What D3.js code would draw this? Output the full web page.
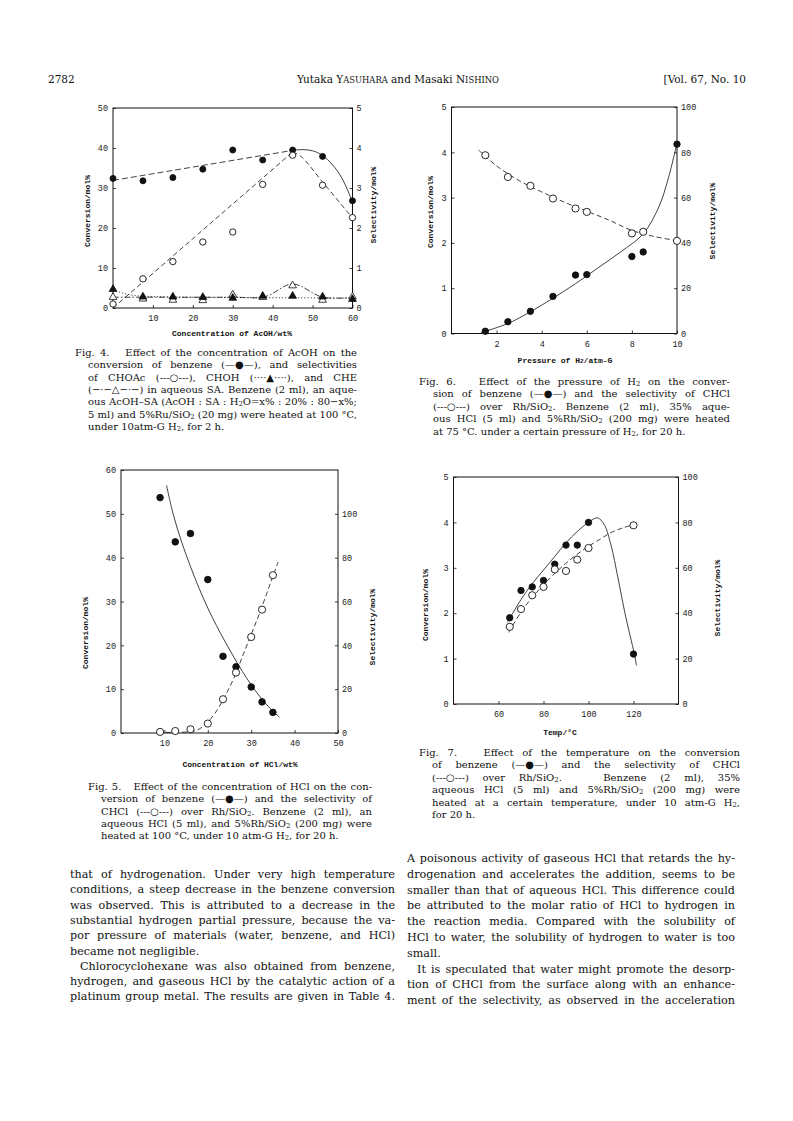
<!DOCTYPE html>
<html>
<head>
<meta charset="utf-8">
<script src="https://cdn.jsdelivr.net/npm/d3@7"></script>
<style>
body { margin: 0; background: #fff; }
</style>
</head>
<body>
<div id="page"></div>
<script>
var w = 793;
var h = 1121;

// Fig. 4 - AcOH concentration
var fig4Conc = [0, 7.5, 15, 22.5, 30, 37.5, 45, 52.5, 60];
var fig4Conversion = [32.4, 31.8, 32.6, 34.7, 39.5, 37.0, 39.5, 37.9, 26.8];
var fig4CHOAc = [0.1, 0.73, 1.16, 1.65, 1.9, 3.09, 3.82, 3.07, 2.26];
var fig4CHOH = [0.47, 0.28, 0.28, 0.27, 0.25, 0.30, 0.30, 0.28, 0.22];
var fig4CHE = [0.27, 0.23, 0.20, 0.19, 0.33, 0.27, 0.56, 0.20, 0.28];
var fig4ConvTrend = [[0, 31.9], [45, 39.4]];
var fig4ConvFall = [[45, 39.4], [47.5, 39.6], [50, 39.3], [52.5, 38.1], [55, 35.8], [57.5, 32.2], [60, 26.5]];
var fig4CHOAcRise = [[0, 0], [45, 3.9]];
var fig4CHOAcFall = [[45, 3.9], [47, 3.8], [52.5, 3.15], [60, 2.25]];
var fig4CHOHTrend = [[0, 0.45], [4, 0.32], [8, 0.28], [30, 0.26], [60, 0.25]];
var fig4CHETrend = [[0, 0.27], [30, 0.27], [38, 0.28], [45, 0.6], [52.5, 0.27], [60, 0.26]];

// Fig. 6 - H2 pressure
var fig6Press = [1.5, 2.5, 3.5, 4.5, 5.5, 6, 8, 8.5, 10];
var fig6Conversion = [0.05, 0.26, 0.49, 0.82, 1.29, 1.3, 1.7, 1.8, 4.18];
var fig6Select = [78.7, 69.1, 65.2, 59.6, 55.2, 53.7, 44.2, 44.9, 40.9];
var fig6ConvTrend = [[1.3, 0.02], [2.5, 0.22], [3.5, 0.48], [4.5, 0.78], [5.5, 1.1], [6.5, 1.45], [7.5, 1.8], [8.5, 2.2], [9.2, 2.8], [9.6, 3.4], [10, 4.2]];
var fig6SelTrend = [[1.2, 81], [2, 74], [3, 67.5], [4, 62.5], [5, 58], [6, 54], [7, 50], [8, 45.5], [9, 42.8], [10, 41]];

// Fig. 5 - HCl concentration
var fig5Conc = [9, 12.5, 16, 20, 23.5, 26.5, 30, 32.5, 35];
var fig5Conversion = [53.7, 43.6, 45.5, 35, 17.5, 15.1, 10.5, 7.1, 4.7];
var fig5Select = [0.5, 0.9, 1.7, 4.3, 15.4, 27.6, 43.8, 56.3, 72];
var fig5ConvTrend = [[10.5, 56.5], [12, 50], [14, 43.5], [16, 38], [18, 33], [20, 28.5], [22, 24.5], [24, 20.8], [26, 17.3], [28, 14], [30, 11], [32, 8.3], [34, 6], [36.5, 3.6]];
var fig5SelTrend = [[8.5, 0.3], [16, 0.6], [18, 1.8], [20, 5], [22, 10], [24, 17], [26, 25], [28, 35], [30, 45], [32, 55], [34, 66], [35, 71.5], [36.2, 78]];

// Fig. 7 - temperature
var fig7Temp = [65, 70, 75, 80, 85, 90, 95, 100, 120];
var fig7Conversion = [1.9, 2.5, 2.58, 2.72, 3.08, 3.5, 3.5, 4.0, 1.1];
var fig7Select = [34, 41.8, 47.9, 51.6, 59.3, 58.6, 63.6, 68.7, 78.7];
var fig7ConvTrend = [[64, 1.8], [70, 2.3], [75, 2.65], [80, 2.95], [85, 3.25], [90, 3.55], [95, 3.8], [100, 4.0], [104, 4.1], [107, 3.95], [110, 3.5], [113, 2.8], [116, 2.05], [118.5, 1.5], [120.4, 1.1], [121.3, 0.85]];
var fig7SelTrend = [[64.5, 31.5], [70, 40.5], [75, 47], [80, 52.5], [85, 57.5], [90, 62], [95, 66], [100, 69.5], [105, 72.5], [110, 75.5], [115, 77.5], [120, 79]];

var serif = "'DejaVu Serif', 'Liberation Serif', serif";
var mono = "'Liberation Mono', 'DejaVu Sans Mono', monospace";
var ink = "#111";

var svg = d3.select("#page")
    .append("svg")
    .attr("width", w)
    .attr("height", h)
    .style("background-color", "#fff");

function chart(box, xDomain, yLeftDomain, yRightDomain, ticks) {
    var g = svg.append("g");
    var x = d3.scaleLinear().domain(xDomain).range([box.left, box.right]);
    var yL = d3.scaleLinear().domain(yLeftDomain).range([box.bottom, box.top]);
    var yR = d3.scaleLinear().domain(yRightDomain).range([box.bottom, box.top]);

    g.append("rect")
        .attr("x", box.left).attr("y", box.top)
        .attr("width", box.right - box.left).attr("height", box.bottom - box.top)
        .attr("fill", "none").attr("stroke", ink).attr("stroke-width", 1);

    function style(sel) {
        sel.select(".domain").remove();
        sel.selectAll("line").attr("stroke", ink).attr("stroke-width", 0.8);
        sel.selectAll("text").attr("font-family", mono).attr("font-size", "8.5px").attr("fill", "#222");
    }

    g.append("g").attr("transform", "translate(0," + box.bottom + ")")
        .call(d3.axisBottom(x).tickValues(ticks.x).tickSize(-3).tickPadding(7).tickFormat(d3.format("d")))
        .call(style);
    g.append("g").attr("transform", "translate(" + box.left + ",0)")
        .call(d3.axisLeft(yL).tickValues(ticks.left).tickSize(-3).tickPadding(5).tickFormat(d3.format("d")))
        .call(style);
    g.append("g").attr("transform", "translate(" + box.right + ",0)")
        .call(d3.axisRight(yR).tickValues(ticks.right).tickSize(-3).tickPadding(4).tickFormat(d3.format("d")))
        .call(style);

    return { g: g, x: x, yL: yL, yR: yR };
}

function trend(c, pts, scale, dash, curve) {
    var line = d3.line()
        .x(function (d) { return c.x(d[0]); })
        .y(function (d) { return scale(d[1]); })
        .curve(curve || d3.curveMonotoneX);
    c.g.append("path")
        .datum(pts)
        .attr("d", line)
        .attr("fill", "none")
        .attr("stroke", ink)
        .attr("stroke-width", 0.8)
        .attr("stroke-dasharray", dash || null);
}

function dots(c, xs, ys, scale, filled, r) {
    c.g.selectAll(null)
        .data(xs)
        .join("circle")
        .attr("cx", function (d) { return c.x(d); })
        .attr("cy", function (d, i) { return scale(ys[i]); })
        .attr("r", r || 3)
        .attr("fill", filled ? ink : "#fff")
        .attr("stroke", ink)
        .attr("stroke-width", 0.9);
}

function triangles(c, xs, ys, scale, filled) {
    c.g.selectAll(null)
        .data(xs)
        .join("path")
        .attr("d", d3.symbol(d3.symbolTriangle, 26))
        .attr("transform", function (d, i) {
            return "translate(" + c.x(d) + "," + scale(ys[i]) + ")";
        })
        .attr("fill", filled ? ink : "#fff")
        .attr("stroke", ink)
        .attr("stroke-width", 0.8);
}

function axisTitle(x, y, parts, rotate) {
    var t = svg.append("text")
        .attr("font-family", mono)
        .attr("font-size", "8px")
        .attr("font-weight", "bold")
        .attr("fill", ink)
        .attr("text-anchor", "middle")
        .attr("dominant-baseline", "central")
        .attr("transform", "translate(" + x + "," + y + ")" + (rotate ? " rotate(-90)" : ""));
    parts.forEach(function (p) {
        if (typeof p === "string") {
            t.append("tspan").text(p);
        } else {
            t.append("tspan").attr("font-size", "6px").attr("baseline-shift", "-30%").text(p.sub);
        }
    });
}

// ---- Fig. 4
var c4 = chart({ left: 113, right: 352.5, top: 108, bottom: 308 }, [0, 60], [0, 50], [0, 5],
    { x: [10, 20, 30, 40, 50, 60], left: [0, 10, 20, 30, 40, 50], right: [0, 1, 2, 3, 4, 5] });
trend(c4, fig4ConvTrend, c4.yL, "6,3", d3.curveLinear);
trend(c4, fig4ConvFall, c4.yL, null);
trend(c4, fig4CHOAcRise, c4.yR, "5,3", d3.curveLinear);
trend(c4, fig4CHOAcFall, c4.yR, "5,3", d3.curveCatmullRom);
trend(c4, fig4CHOHTrend, c4.yR, "1.2,2", d3.curveBasis);
trend(c4, fig4CHETrend, c4.yR, "6,2,1.5,2", d3.curveCatmullRom);
dots(c4, fig4Conc, fig4Conversion, c4.yL, true, 3);
dots(c4, fig4Conc, fig4CHOAc, c4.yR, false, 3.2);
triangles(c4, fig4Conc, fig4CHE, c4.yR, false);
triangles(c4, fig4Conc, fig4CHOH, c4.yR, true);
axisTitle(87, 211, ["Conversion/mol%"], true);
axisTitle(373, 205, ["Selectivity/mol%"], true);
axisTitle(232, 333, ["Concentration of AcOH/wt%"], false);

// ---- Fig. 6
var c6 = chart({ left: 451.5, right: 677, top: 107, bottom: 333.5 }, [0, 10], [0, 5], [0, 100],
    { x: [2, 4, 6, 8, 10], left: [0, 1, 2, 3, 4, 5], right: [0, 20, 40, 60, 80, 100] });
trend(c6, fig6ConvTrend, c6.yL, null, d3.curveCatmullRom);
trend(c6, fig6SelTrend, c6.yR, "5,3", d3.curveCatmullRom);
dots(c6, fig6Press, fig6Conversion, c6.yL, true, 3.2);
dots(c6, fig6Press, fig6Select, c6.yR, false, 3.6);
axisTitle(430, 212, ["Conversion/mol%"], true);
axisTitle(712, 221, ["Selectivity/mol%"], true);
axisTitle(565, 360, ["Pressure of H", { sub: "2" }, "/atm-G"], false);

// ---- Fig. 5
var c5 = chart({ left: 121, right: 338, top: 470, bottom: 733 }, [0, 50], [0, 60], [0, 120],
    { x: [10, 20, 30, 40, 50], left: [0, 10, 20, 30, 40, 50, 60], right: [0, 20, 40, 60, 80, 100] });
trend(c5, fig5ConvTrend, c5.yL, null, d3.curveCatmullRom);
trend(c5, fig5SelTrend, c5.yR, "5,3", d3.curveCatmullRom);
dots(c5, fig5Conc, fig5Conversion, c5.yL, true, 3.3);
dots(c5, fig5Conc, fig5Select, c5.yR, false, 3.6);
axisTitle(85, 633, ["Conversion/mol%"], true);
axisTitle(372, 627, ["Selectivity/mol%"], true);
axisTitle(240, 764, ["Concentration of HCl/wt%"], false);

// ---- Fig. 7
var c7 = chart({ left: 453.5, right: 678.5, top: 477, bottom: 704 }, [40, 140], [0, 5], [0, 100],
    { x: [60, 80, 100, 120], left: [0, 1, 2, 3, 4, 5], right: [0, 20, 40, 60, 80, 100] });
trend(c7, fig7ConvTrend, c7.yL, null, d3.curveCatmullRom);
trend(c7, fig7SelTrend, c7.yR, "5,3", d3.curveCatmullRom);
dots(c7, fig7Temp, fig7Conversion, c7.yL, true, 3.2);
dots(c7, fig7Temp, fig7Select, c7.yR, false, 3.6);
axisTitle(425, 605, ["Conversion/mol%"], true);
axisTitle(717, 598, ["Selectivity/mol%"], true);
axisTitle(560, 732, ["Temp/°C"], false);

// ---- running text
function textLine(x, y, parts, size, justifyTo) {
    var t = svg.append("text")
        .attr("x", x)
        .attr("y", y)
        .attr("font-family", serif)
        .attr("font-size", size + "px")
        .attr("fill", ink)
        .attr("xml:space", "preserve");
    var full = "";
    [].concat(parts).forEach(function (p) {
        if (typeof p === "string") {
            t.append("tspan").text(p);
            full += p;
        } else if (p.sub) {
            t.append("tspan").attr("font-size", (size * 0.68) + "px").attr("baseline-shift", "-12%").text(p.sub);
        } else if (p.sc) {
            t.append("tspan").attr("font-size", (size * 0.8) + "px").text(p.sc);
            full += p.sc;
        }
    });
    if (justifyTo) {
        // stretch the gaps between words so the line fills the column
        var natural = t.node().getComputedTextLength();
        var gaps = (full.match(/ /g) || []).length;
        var extra = (justifyTo - x - natural) / Math.max(gaps, 1);
        if (extra >= 0) {
            t.attr("word-spacing", extra.toFixed(2));
        } else {
            t.attr("textLength", justifyTo - x).attr("lengthAdjust", "spacingAndGlyphs");
        }
    }
    return t;
}

function block(lines, x, indent, right, y0, step, size) {
    lines.forEach(function (ln, i) {
        var x0 = x + (ln.indent ? indent : 0);
        textLine(x0, y0 + i * step, ln.parts, size, ln.last ? null : right);
    });
}

textLine(48, 83, ["2782"], 10.5);
textLine(398, 83, ["Yutaka Y", { sc: "ASUHARA" }, " and Masaki N", { sc: "ISHINO" }], 10.5).attr("text-anchor", "middle");
textLine(746, 83, ["[Vol. 67, No. 10"], 10.5).attr("text-anchor", "end");

var fig4Caption = [
    { parts: ["Fig. 4.   Effect of the concentration of AcOH on the"] },
    { indent: true, parts: ["conversion of benzene (—●—), and selectivities"] },
    { indent: true, parts: ["of CHOAc (---○---), CHOH (····▲····), and CHE"] },
    { indent: true, parts: ["(−·−△−·−) in aqueous SA. Benzene (2 ml), an aque-"] },
    { indent: true, parts: ["ous AcOH–SA (AcOH : SA : H", { sub: "2" }, "O=x% : 20% : 80−x%;"] },
    { indent: true, parts: ["5 ml) and 5%Ru/SiO", { sub: "2" }, " (20 mg) were heated at 100 °C,"] },
    { indent: true, last: true, parts: ["under 10atm-G H", { sub: "2" }, ", for 2 h."] }
];
block(fig4Caption, 75, 13, 357, 356, 12.35, 10);

var fig6Caption = [
    { parts: ["Fig. 6.   Effect of the pressure of H", { sub: "2" }, " on the conver-"] },
    { indent: true, parts: ["sion of benzene (—●—) and the selectivity of CHCl"] },
    { indent: true, parts: ["(---○---) over Rh/SiO", { sub: "2" }, ". Benzene (2 ml), 35% aque-"] },
    { indent: true, parts: ["ous HCl (5 ml) and 5%Rh/SiO", { sub: "2" }, " (200 mg) were heated"] },
    { indent: true, last: true, parts: ["at 75 °C. under a certain pressure of H", { sub: "2" }, ", for 20 h."] }
];
block(fig6Caption, 419, 14, 730, 385, 12.4, 10);

var fig5Caption = [
    { parts: ["Fig. 5.   Effect of the concentration of HCl on the con-"] },
    { indent: true, parts: ["version of benzene (—●—) and the selectivity of"] },
    { indent: true, parts: ["CHCl (---○---) over Rh/SiO", { sub: "2" }, ". Benzene (2 ml), an"] },
    { indent: true, parts: ["aqueous HCl (5 ml), and 5%Rh/SiO", { sub: "2" }, " (200 mg) were"] },
    { indent: true, last: true, parts: ["heated at 100 °C, under 10 atm-G H", { sub: "2" }, ", for 20 h."] }
];
block(fig5Caption, 88, 13, 372, 790, 12.35, 10);

var fig7Caption = [
    { parts: ["Fig. 7.   Effect of the temperature on the conversion"] },
    { indent: true, parts: ["of benzene (—●—) and the selectivity of CHCl"] },
    { indent: true, parts: ["(---○---) over Rh/SiO", { sub: "2" }, ".   Benzene (2 ml), 35%"] },
    { indent: true, parts: ["aqueous HCl (5 ml) and 5%Rh/SiO", { sub: "2" }, " (200 mg) were"] },
    { indent: true, parts: ["heated at a certain temperature, under 10 atm-G H", { sub: "2" }, ","] },
    { indent: true, last: true, parts: ["for 20 h."] }
];
block(fig7Caption, 419, 13, 740, 756, 12.4, 10);

var leftText = [
    { parts: ["that of hydrogenation. Under very high temperature"] },
    { parts: ["conditions, a steep decrease in the benzene conversion"] },
    { parts: ["was observed. This is attributed to a decrease in the"] },
    { parts: ["substantial hydrogen partial pressure, because the va-"] },
    { parts: ["por pressure of materials (water, benzene, and HCl)"] },
    { last: true, parts: ["became not negligible."] },
    { indent: true, parts: ["Chlorocyclohexane was also obtained from benzene,"] },
    { parts: ["hydrogen, and gaseous HCl by the catalytic action of a"] },
    { parts: ["platinum group metal. The results are given in Table 4."] }
];
block(leftText, 70, 10, 395, 878, 15.3, 11.2);

var rightText = [
    { parts: ["A poisonous activity of gaseous HCl that retards the hy-"] },
    { parts: ["drogenation and accelerates the addition, seems to be"] },
    { parts: ["smaller than that of aqueous HCl. This difference could"] },
    { parts: ["be attributed to the molar ratio of HCl to hydrogen in"] },
    { parts: ["the reaction media. Compared with the solubility of"] },
    { parts: ["HCl to water, the solubility of hydrogen to water is too"] },
    { last: true, parts: ["small."] },
    { indent: true, parts: ["It is speculated that water might promote the desorp-"] },
    { parts: ["tion of CHCl from the surface along with an enhance-"] },
    { parts: ["ment of the selectivity, as observed in the acceleration"] }
];
block(rightText, 407, 10, 735, 862, 15.8, 11.2);
</script>
</body>
</html>
